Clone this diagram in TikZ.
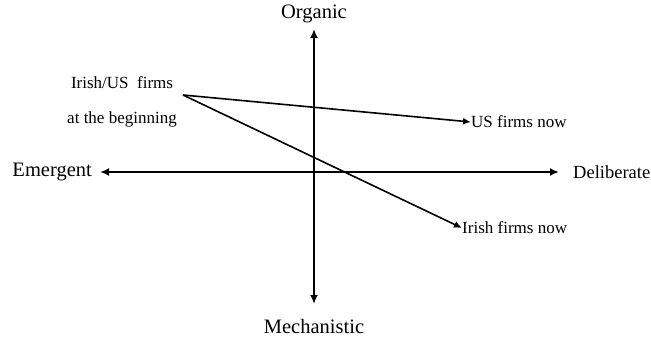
\documentclass[tikz,border=0pt]{standalone}
\usepackage{fontspec}
\setmainfont{Liberation Serif}
\usetikzlibrary{arrows.meta}
\tikzset{
  axis/.style={line width=2.8pt,{Latex[length=9pt,width=8pt]}-{Latex[length=9pt,width=8pt]}},
  move/.style={line width=1.6pt,-{Latex[length=8pt,width=7pt]}},
  big/.style={font=\fontsize{20.5}{22}\selectfont,inner sep=0pt},
  small/.style={font=\fontsize{17}{19}\selectfont,inner sep=0pt}
}
\begin{document}
\begin{tikzpicture}[x=1pt,y=-1pt]
  \useasboundingbox (0,0) rectangle (651,338);
  % axes
  \coordinate (west) at (100,172);
  \coordinate (east) at (559,172);
  \coordinate (north) at (314,29);
  \coordinate (south) at (314,304);
  \draw[axis] (west) -- (east);
  \draw[axis] (south) -- (north);
  \node[big] (organic) at (314,14) {Organic};
  \node[big] (mech) at (314,326) {Mechanistic};
  \node[big,anchor=east] (emergent) at (92,172) {Emergent};
  \node[big,anchor=west,font=\fontsize{18.5}{20}\selectfont] (deliberate) at (573,172) {Deliberate};
  % firms
  \node[small] (start) at (122,83) {Irish/US\ \ firms};
  \node[small] (start2) at (122,119) {at the beginning};
  \coordinate (from) at (183,95);
  \node[small,anchor=west] (us) at (471,122) {US firms now};
  \node[small,anchor=west] (irish) at (462,228) {Irish firms now};
  \draw[move] (from) -- (us.west);
  \draw[move] (from) -- (irish.west);
\end{tikzpicture}
\end{document}
